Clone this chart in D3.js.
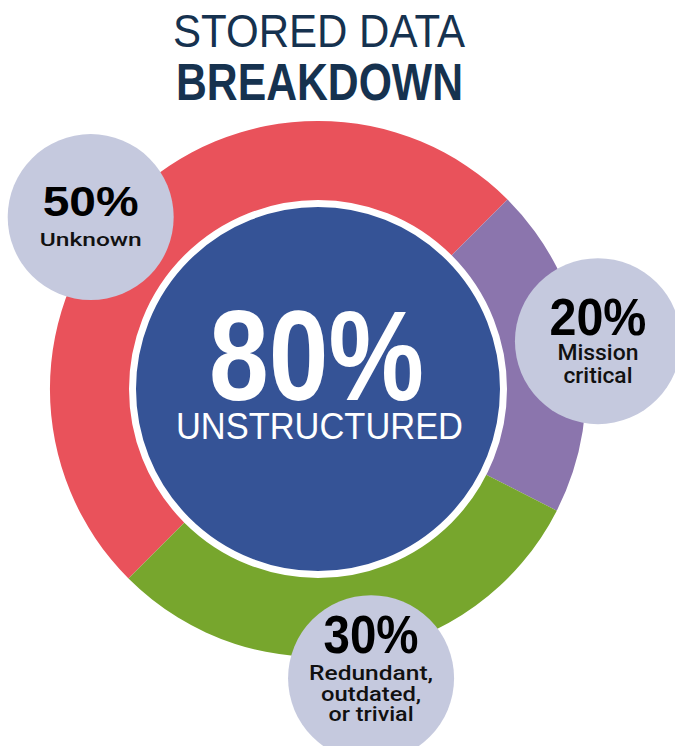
<!DOCTYPE html>
<html>
<head>
<meta charset="utf-8">
<script src="https://cdn.jsdelivr.net/npm/d3@7"></script>
<style>
  body { margin: 0; background: #fff; }
  svg { display: block; }
</style>
</head>
<body>
<div id="chart"></div>
<script>
// ===============================
// DATA
// ===============================
const titleLines = ['STORED DATA', 'BREAKDOWN'];
const categories = ['Unknown', 'Mission critical', 'Redundant, outdated, or trivial'];
const shares = [50, 20, 30];
const labelLines = [['Unknown'], ['Mission', 'critical'], ['Redundant,', 'outdated,', 'or trivial']];
const unstructuredShare = 80;
const unstructuredLabel = 'UNSTRUCTURED';

// ===============================
// LAYOUT / STYLE
// ===============================
const width = 675;
const height = 746;
const cx = 318;
const cy = 389;
const outerR = 268;
const innerR = 186;
const colors = ['#e9525b', '#8b75ad', '#77a62d'];
const bubbleColor = '#c5c9de';
const navy = '#16324f';
const centerBlue = '#355396';

// bubble placement: offset from the slice mid-angle (deg) and distance from center
const bubbleLayout = [
  { da: -7.9, dist: 285, r: 83, pctDy: -1, pctSize: 43, pctW: 96, lineDy: 29, step: 22, lineSize: 18.5, lineW: [102] },
  { da: -0.7, dist: 284, r: 83, pctDy: -6, pctSize: 52, pctW: 97, lineDy: 19, step: 23, lineSize: 22, lineW: [81, 69] },
  { da: -1.4, dist: 294, r: 83, pctDy: -25, pctSize: 53, pctW: 95, lineDy: 2, step: 20.5, lineSize: 20, lineW: [124, 100, 85] }
];

const svg = d3.select('#chart')
  .append('svg')
  .attr('width', width)
  .attr('height', height);

// ===============================
// TITLE
// ===============================
const title = svg.append('text')
  .attr('text-anchor', 'middle')
  .attr('font-family', 'Liberation Sans, Arial, sans-serif')
  .attr('fill', navy);

title.append('tspan')
  .attr('x', 319).attr('y', 47)
  .attr('font-size', 47)
  .attr('textLength', 292)
  .attr('lengthAdjust', 'spacingAndGlyphs')
  .text(titleLines[0]);

title.append('tspan')
  .attr('x', 319.5).attr('y', 100)
  .attr('font-weight', 'bold')
  .attr('font-size', 52)
  .attr('textLength', 287)
  .attr('lengthAdjust', 'spacingAndGlyphs')
  .text(titleLines[1]);

// ===============================
// RING
// ===============================
const startA = 225 * Math.PI / 180;
const pie = d3.pie()
  .sort(null)
  .value(d => d)
  .startAngle(startA)
  .endAngle(startA + 2 * Math.PI);

const arcs = pie(shares);
const arc = d3.arc().innerRadius(innerR).outerRadius(outerR);

const ring = svg.append('g').attr('transform', `translate(${cx},${cy})`);
ring.selectAll('path')
  .data(arcs)
  .enter()
  .append('path')
  .attr('d', arc)
  .attr('fill', (d, i) => colors[i]);

// center disc
ring.append('circle')
  .attr('r', 185.5)
  .attr('fill', centerBlue)
  .attr('stroke', '#fff')
  .attr('stroke-width', 7);

const center = ring.append('text')
  .attr('text-anchor', 'middle')
  .attr('font-family', 'Liberation Sans, Arial, sans-serif')
  .attr('fill', '#fff');

center.append('tspan')
  .attr('x', -1.5).attr('y', 11)
  .attr('font-weight', 'bold')
  .attr('font-size', 128)
  .attr('textLength', 215)
  .attr('lengthAdjust', 'spacingAndGlyphs')
  .text(unstructuredShare + '%');

center.append('tspan')
  .attr('x', 1.5).attr('y', 50)
  .attr('font-size', 36)
  .attr('textLength', 287)
  .attr('lengthAdjust', 'spacingAndGlyphs')
  .text(unstructuredLabel);

// ===============================
// BUBBLES
// ===============================
arcs.forEach((a, i) => {
  const L = bubbleLayout[i];
  const mid = (a.startAngle + a.endAngle) / 2 + L.da * Math.PI / 180;
  const bx = cx + L.dist * Math.sin(mid);
  const by = cy - L.dist * Math.cos(mid);

  const g = svg.append('g').attr('transform', `translate(${bx},${by})`);

  g.append('circle')
    .attr('r', L.r)
    .attr('fill', bubbleColor);

  const label = g.append('text')
    .attr('text-anchor', 'middle')
    .attr('fill', '#000');

  label.append('tspan')
    .attr('x', 0).attr('y', L.pctDy)
    .attr('font-family', 'Liberation Sans, Arial, sans-serif')
    .attr('font-weight', 'bold')
    .attr('font-size', L.pctSize)
    .attr('textLength', L.pctW)
    .attr('lengthAdjust', 'spacingAndGlyphs')
    .text(shares[i] + '%');

  labelLines[i].forEach((line, j) => {
    label.append('tspan')
      .attr('x', 0).attr('y', L.lineDy + j * L.step)
      .attr('font-family', 'Roboto, Liberation Sans, Arial, sans-serif')
      .attr('font-weight', 500)
      .attr('font-size', L.lineSize)
      .attr('fill', '#111')
      .attr('textLength', L.lineW[j])
      .attr('lengthAdjust', 'spacingAndGlyphs')
      .text(line);
  });

  g.append('title').text(categories[i] + ': ' + shares[i] + '%');
});
</script>
</body>
</html>
